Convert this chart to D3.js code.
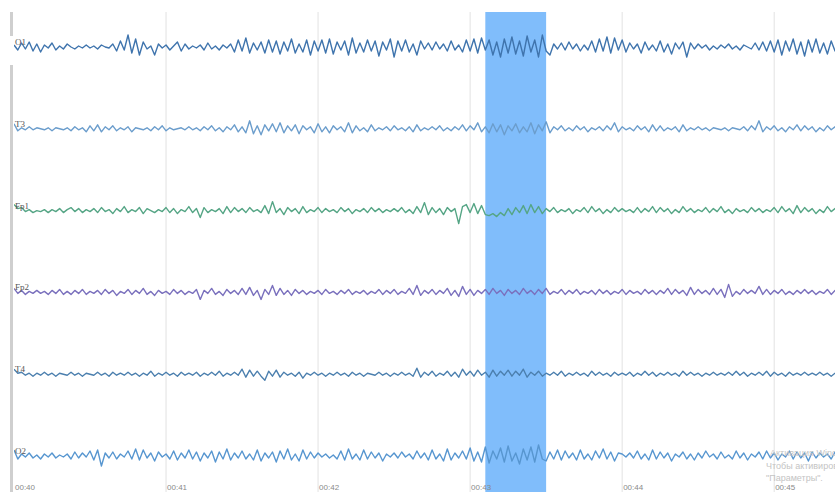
<!DOCTYPE html>
<html>
<head>
<meta charset="utf-8">
<script src="https://cdn.jsdelivr.net/npm/d3@7"></script>
<style>
  body { margin: 0; background: #fff; }
  svg { display: block; }
</style>
</head>
<body>
<svg id="eeg" width="835" height="492"></svg>
<script>
const width = 835;
const height = 492;

// recording: 40 samples per second, starting at 00:40
const sampleRate = 40;
const startTime = 40;

const channels = ["O1", "T3", "Fp1", "Fp2", "T4", "O2"];
const channelColors = ["#3f74ad", "#6b9dcc", "#55a585", "#7a70bd", "#4b7fae", "#5796d0"];
const tickLabels = ["00:40", "00:41", "00:42", "00:43", "00:44", "00:45"];
const tickTimes = [40, 41, 42, 43, 44, 45];
const selection = [43.1, 43.5];

const o1 = [
  2,-3,4,-2,5,-4,3,-5,2,-1, 4,-3,1,-2,3,0,-2,1,-1,2,
  -1,1,-2,2,0,-1,3,-4,6,-3, 12,-6,8,-8,5,-2,1,-8,3,-1,
  2,-3,1,5,-4,3,-2,1,-1,2, -3,4,-2,1,-3,2,-1,3,-5,7,
  -4,9,-6,4,-3,5,-6,7,-5,6, -7,5,-4,8,-6,3,-5,7,-8,6,
  -4,7,-6,8,-7,5,-3,6,-8,9, -6,4,-5,7,-4,6,-9,5,-3,8,
  -10,6,-4,7,-5,3,-8,6,-2,4, -3,5,-2,3,-4,6,-3,2,-5,7,
  -4,8,-6,9,-3,7,-8,5,-10,8, -6,10,-7,6,-9,11,-5,7,-10,12,
  -4,-8,3,-2,4,-3,5,-2,3,-4, 2,-3,6,-5,8,-4,10,-6,9,-3,
  7,-5,4,-2,3,-6,5,-3,2,-4, 6,-5,3,-7,4,-2,5,-10,4,-2,
  3,-1,2,-3,1,-2,2,-1,3,-2, 1,-3,2,0,-2,4,-3,5,-4,6,
  -5,7,-8,6,-4,8,-7,5,-9,7, -5,8,-6,4,-7,6,-4,5,-3,4
];
const t3 = [
  5,-2,1,-1,2,-1,1,0,-1,1, -2,1,0,-1,1,-2,2,-1,1,-3,
  3,-2,4,-3,2,-1,3,-2,1,-1, 2,-3,1,0,-1,1,-2,2,-1,3,
  -2,1,-1,0,1,-1,2,-1,1,-2, 2,-1,3,-2,1,-3,2,-1,4,-3,
  2,-4,8,-5,3,-6,4,-2,5,-3, 6,-4,3,-2,4,-5,3,-1,2,-4,
  5,-3,2,-4,3,-1,2,-3,6,-4, 3,-2,1,-3,4,-2,1,-1,2,-2,
  3,-1,1,-2,2,-3,4,-2,1,-1, 2,-1,3,-2,1,-2,2,-1,4,-2,
  3,-1,6,-3,2,-4,5,-3,4,-6, 3,-2,5,-4,2,-3,6,-5,4,-2,
  7,-4,2,-1,3,-2,1,-2,3,-1, 2,-3,1,-1,2,-2,3,-1,6,-3,
  2,-1,1,-2,3,-1,2,-3,4,-2, 3,-2,1,-1,2,-3,4,-2,1,-1,
  2,-1,1,-2,1,0,-1,1,-2,1, 0,-1,2,-2,3,-1,8,-3,2,-1,
  3,-2,1,-3,2,-1,4,-2,3,-1, 2,-3,1,-2,3,-1,2,-2,1,-1
];
const fp1 = [
  6,2,3,-1,1,-2,0,-1,1,-2, 1,-1,2,-2,1,3,-1,2,-2,1,
  -1,2,-2,3,-1,1,-3,2,-1,4, -2,1,-1,3,-3,2,0,-2,1,-1,
  3,-2,2,-3,1,-1,4,-2,2,-7, 3,-2,1,-1,2,-3,4,-2,3,-1,
  2,-2,3,-1,1,-2,5,-3,9,-2, 2,-4,3,-1,2,-3,4,-2,1,-1,
  3,-2,2,-1,1,-2,3,-1,2,-3, 1,-1,2,-2,3,-1,2,-2,1,-1,
  2,-1,3,-2,1,-3,4,-2,8,-4, 3,-2,2,-4,3,-1,2,-13,4,6,
  -2,7,-3,5,-4,-5,-3,-6,-2,-5, 2,-4,3,-2,5,-3,6,-2,4,-3,
  2,-1,3,-2,1,-1,2,-3,1,-1, 3,-2,4,-1,2,-3,1,-2,3,-1,
  2,-1,1,-2,3,-2,2,-1,4,-2, 3,-1,2,-3,1,-2,4,-1,2,-2,
  1,-1,3,-2,2,-1,4,-2,1,-3, 2,-1,1,-2,3,-1,2,-2,1,-1,
  3,-2,4,-1,2,-3,5,-2,3,-1, 2,-3,1,-2,4,-1,2,-2,1,-1
];
const fp2 = [
  4,-1,2,-2,1,-1,2,-1,1,-2, 2,-1,3,-2,1,-2,2,-1,3,-2,
  1,-1,2,-2,3,-1,2,-3,1,-1, 3,-2,2,-1,4,-2,1,-3,2,-1,
  1,-2,3,-1,2,-2,1,-1,3,-7, 2,-1,4,-2,1,-3,3,-1,2,-2,
  4,-2,5,-3,2,-7,3,-2,7,-3, 4,-2,2,-3,3,-1,2,-2,1,-1,
  2,-2,3,-1,1,-2,2,-1,3,-2, 1,-1,2,-2,1,-1,3,-2,2,-1,
  3,-2,1,-1,4,-2,7,-3,2,-1, 3,-2,2,-1,4,-3,2,-4,6,-2,
  3,-3,2,-1,3,-2,4,-1,2,-3, 3,-1,2,-2,4,-1,2,-2,3,-1,
  4,-2,1,-1,3,-2,2,-1,3,-2, 1,-1,2,-2,3,-1,2,-2,1,-1,
  3,-2,2,-1,1,-2,3,-1,2,-2, 2,-1,4,-2,3,-1,2,-3,5,-2,
  3,-1,2,-2,4,-2,3,-5,8,-4, 1,-2,3,-1,2,-1,6,-2,3,-2,
  2,-1,3,-2,1,-2,2,-1,3,-1, 2,-2,1,-1,3,-2,2,-1,1,-1
];
const t4 = [
  5,1,2,-1,1,-2,1,-1,2,-1, 1,-2,1,0,-1,2,-1,1,-2,1,
  0,-1,2,-1,1,-2,2,-1,1,-1, 2,-1,1,-2,1,-1,3,-2,1,-1,
  2,-1,1,-2,2,-1,1,-1,2,-2, 1,-1,2,-1,3,-2,1,-1,2,-1,
  5,-3,4,-2,3,-2,-6,3,-2,4, -3,2,-1,1,-2,2,-4,1,-1,2,
  -1,1,-2,1,-1,2,-1,1,-2,2, -1,1,-2,1,0,-1,2,-1,1,-2,
  1,-1,2,-1,1,-2,6,-3,2,-1, 3,-2,1,-1,3,-2,2,-3,5,-1,
  3,-2,4,-1,2,-3,4,-2,3,-1, 4,-2,3,-1,5,-3,2,-1,3,-2,
  1,-1,2,-1,3,-2,1,-1,2,-1, 1,-2,3,-1,2,-1,1,-2,2,-1,
  1,-1,2,-2,1,-1,3,-1,2,-2, 1,-1,2,-1,1,-2,3,-1,2,-1,
  1,-2,1,-1,2,-1,1,-1,2,-1, 3,-1,2,-2,1,-1,2,-1,3,-2,
  2,-1,1,-2,2,-1,1,-1,2,-1, 1,-1,2,-1,1,-2,1,-1,2,-1
];
const o2 = [
  6,-3,2,-1,3,-2,1,-3,2,-1, 3,-2,1,-1,2,-3,4,-2,3,-1,
  5,-4,6,-10,3,-2,4,-3,2,-1, 5,-3,7,-4,6,-2,3,-5,4,-1,
  2,-3,5,-4,3,-2,6,-3,4,-5, 3,-2,5,-6,4,-3,7,-4,3,-2,
  5,-3,2,-4,6,-5,3,-2,4,-6, 5,-3,7,-4,2,-5,6,-3,4,-2,
  3,-1,2,-2,1,-3,5,-4,7,-3, 2,-4,6,-3,4,-2,3,-5,2,-1,
  3,-2,4,-1,2,-3,5,-2,3,-4, 6,-3,2,-5,7,-4,3,-2,5,-3,
  8,-5,4,-6,9,-7,5,-3,8,-6, 10,-5,3,-8,7,-4,9,-6,11,-3,
  -5,4,-3,6,-4,5,-2,3,-4,6, -3,2,-4,5,-2,7,-3,4,-5,3,
  2,-1,3,-2,5,-3,2,-4,6,-3, 4,-2,3,-5,2,-1,4,-3,2,-4,
  3,-2,5,-1,2,-3,4,-2,1,-3, 5,-2,3,-4,2,-1,4,-3,5,-2,
  3,-4,2,-1,5,-3,4,-2,3,-5, 4,-2,3,-1,2,-3,4,-2,3,-1
];
const signals = [o1, t3, fp1, fp2, t4, o2];

const svg = d3.select("#eeg");

const x = d3.scaleLinear().domain([40, 45.4]).range([14, 835]);
const rowY = d3.scalePoint().domain(channels).range([47, 456]);
// each row gets its own amplitude scale (1 unit = 1 px)
const amp = d3.scaleLinear().domain([-1, 1]).range([1, -1]);

svg.append("defs").append("clipPath").attr("id", "plot-clip")
  .append("rect").attr("x", 14).attr("y", 12).attr("width", width - 14).attr("height", height - 12);

// selected window
svg.append("rect")
  .attr("x", x(selection[0]))
  .attr("y", 12)
  .attr("width", x(selection[1]) - x(selection[0]))
  .attr("height", height - 12)
  .attr("fill", "#80bdfb");

// time grid
svg.append("g")
  .selectAll("line")
  .data(tickTimes.slice(1))
  .enter()
  .append("line")
  .attr("x1", (d) => x(d))
  .attr("x2", (d) => x(d))
  .attr("y1", 12)
  .attr("y2", height)
  .attr("stroke", "#e2e2e2")
  .attr("stroke-width", 1);

// left edge bar
svg.append("rect")
  .attr("x", 10).attr("y", 12).attr("width", 3).attr("height", height - 12)
  .attr("fill", "#cfcfcf");
svg.append("rect")
  .attr("x", 9).attr("y", 36).attr("width", 5).attr("height", 29)
  .attr("fill", "#fff");

const line = d3.line()
  .x((d, i) => x(startTime + i / sampleRate))
  .y((d) => d.y);

svg.append("g")
  .attr("clip-path", "url(#plot-clip)")
  .selectAll("path")
  .data(channels)
  .enter()
  .append("path")
  .attr("fill", "none")
  .attr("stroke", (d, i) => channelColors[i])
  .attr("stroke-width", 1.4)
  .attr("stroke-linejoin", "round")
  .attr("d", (ch, k) => line(signals[k].map((v) => ({ y: rowY(ch) + amp(v) }))));

// channel names
svg.append("g")
  .selectAll("text")
  .data(channels)
  .enter()
  .append("text")
  .attr("x", 15)
  .attr("y", (d) => rowY(d) - 2)
  .attr("font-family", "Liberation Serif, serif")
  .attr("font-size", 9)
  .attr("fill", "#555")
  .text((d) => d);

// time labels
svg.append("g")
  .selectAll("text")
  .data(tickTimes)
  .enter()
  .append("text")
  .attr("x", (d) => x(d) + 1)
  .attr("y", 490)
  .attr("font-family", "Liberation Sans, sans-serif")
  .attr("font-size", 8)
  .attr("fill", "#8a8a8a")
  .text((d, i) => tickLabels[i]);

// windows activation watermark
const wm = svg.append("g")
  .attr("font-family", "Liberation Sans, sans-serif")
  .attr("font-size", 9)
  .attr("fill", "#c4c4c4");
wm.append("text").attr("x", 770).attr("y", 456).text("Активация Windows");
wm.append("text").attr("x", 766).attr("y", 469).text("Чтобы активировать Windows, перейдите в раздел");
wm.append("text").attr("x", 766).attr("y", 481).text("\"Параметры\".");
</script>
</body>
</html>
